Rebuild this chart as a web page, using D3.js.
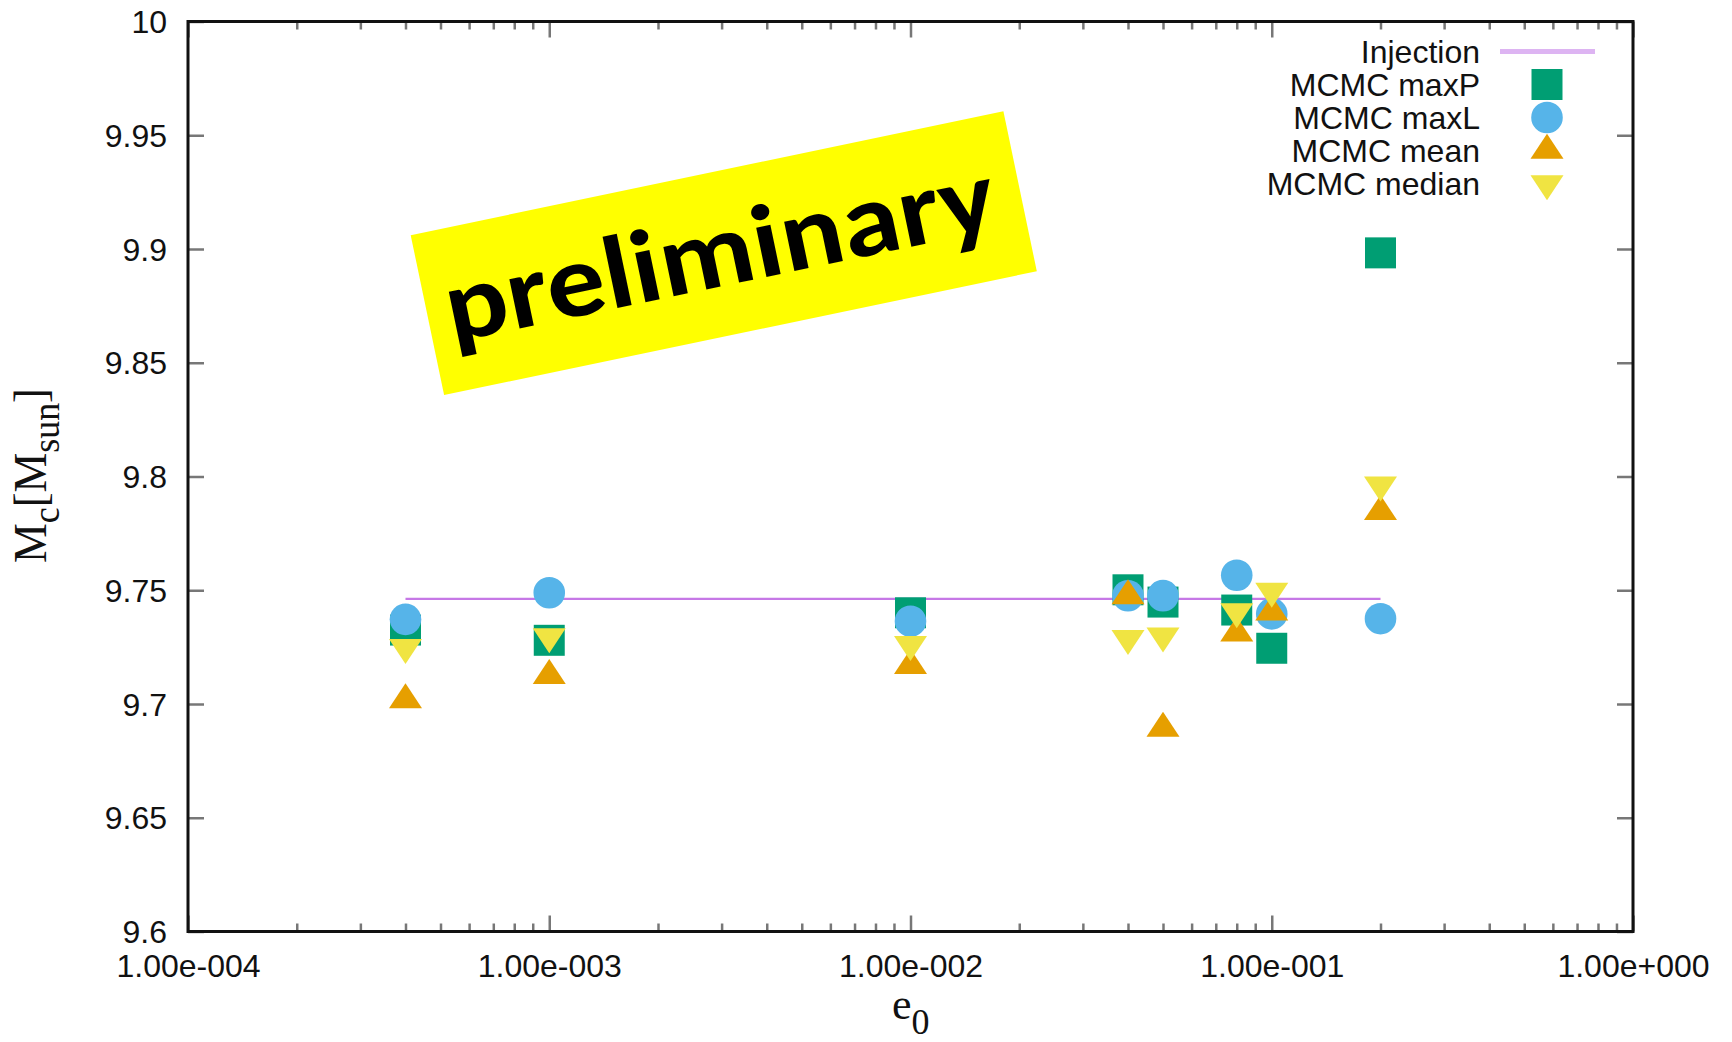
<!DOCTYPE html>
<html>
<head>
    <meta charset="utf-8">
    <script src="https://d3js.org/d3.v7.min.js"></script>
    <style>
        body { margin: 0; background: #ffffff; }
        svg text { font-family: "Liberation Sans", Arial, sans-serif; fill: #111; }
        .tick line { stroke: #777; stroke-width: 2.5; }
    </style>
</head>
<body>
<svg id="chart" width="1732" height="1042"></svg>
<script>
    // eccentricity of each injected run
    var e0 = [4e-4, 1e-3, 1e-2, 4e-2, 5e-2, 8e-2, 1e-1, 2e-1];

    // recovered chirp mass for each run
    var maxP   = [9.7325, 9.7280, 9.7401, 9.7502, 9.7448, 9.7413, 9.7245, 9.8983];
    var maxL   = [9.7372, 9.7489, 9.7364, 9.7476, 9.7476, 9.7566, 9.7396, 9.7375];
    var mean   = [9.7018, 9.7124, 9.7168, 9.7475, 9.6893, 9.7311, 9.7403, 9.7845];
    var median = [9.7249, 9.7296, 9.7262, 9.7289, 9.7300, 9.7406, 9.7497, 9.7963];

    var injection = 9.7462;
    var injectionRange = [4e-4, 2e-1];

    var xTicks = [1e-4, 1e-3, 1e-2, 1e-1, 1];
    var xTickLabels = ["1.00e-004", "1.00e-003", "1.00e-002", "1.00e-001", "1.00e+000"];
    var yTicks = [9.6, 9.65, 9.7, 9.75, 9.8, 9.85, 9.9, 9.95, 10];
    var yTickLabels = ["9.6", "9.65", "9.7", "9.75", "9.8", "9.85", "9.9", "9.95", "10"];

    var seriesNames = ["MCMC maxP", "MCMC maxL", "MCMC mean", "MCMC median"];
    var seriesShapes = ["square", "circle", "up", "down"];
    var seriesColors = ["#009e73", "#56b4e9", "#e69f00", "#f0e442"];
    var seriesValues = [maxP, maxL, mean, median];

    var svg = d3.select("#chart");

    // plot box
    var plotL = 188, plotR = 1633, plotT = 21.5, plotB = 931.5;

    var x = d3.scaleLog().domain([1e-4, 1]).range([plotL, plotR]);
    var y = d3.scaleLinear().domain([9.6, 10]).range([plotB, plotT]);

    var minorTicks = x.ticks().filter(function (t) { return xTicks.indexOf(t) < 0; });

    // x axis, major + minor, bottom and mirrored on top
    var xAxisB = svg.append("g")
        .attr("transform", "translate(0," + plotB + ")")
        .call(d3.axisBottom(x).tickValues(xTicks).tickSize(-16)
            .tickFormat(function (d, i) { return xTickLabels[i]; }));
    xAxisB.selectAll("text")
        .attr("y", 45.5).attr("dy", 0)
        .style("font-size", "32px");
    svg.append("g")
        .attr("transform", "translate(0," + plotB + ")")
        .call(d3.axisBottom(x).tickValues(minorTicks).tickSize(-8).tickFormat(""));
    svg.append("g")
        .attr("transform", "translate(0," + plotT + ")")
        .call(d3.axisTop(x).tickValues(xTicks).tickSize(-16).tickFormat(""));
    svg.append("g")
        .attr("transform", "translate(0," + plotT + ")")
        .call(d3.axisTop(x).tickValues(minorTicks).tickSize(-8).tickFormat(""));

    // y axis, left and mirrored on right
    var yAxisL = svg.append("g")
        .attr("transform", "translate(" + plotL + ",0)")
        .call(d3.axisLeft(y).tickValues(yTicks).tickSize(-16)
            .tickFormat(function (d, i) { return yTickLabels[i]; }));
    yAxisL.selectAll("text")
        .attr("x", -21).attr("dy", 11)
        .style("font-size", "32px");
    svg.append("g")
        .attr("transform", "translate(" + plotR + ",0)")
        .call(d3.axisRight(y).tickValues(yTicks).tickSize(-16).tickFormat(""));

    svg.selectAll(".domain").remove();

    // border
    svg.append("rect")
        .attr("x", plotL).attr("y", plotT)
        .attr("width", plotR - plotL).attr("height", plotB - plotT)
        .attr("fill", "none")
        .attr("stroke", "#111")
        .attr("stroke-width", 3);

    // axis labels
    var yl = svg.append("text")
        .attr("transform", "translate(46,475.5) rotate(-90)")
        .attr("text-anchor", "middle")
        .attr("textLength", 175)
        .attr("lengthAdjust", "spacingAndGlyphs")
        .style("font-family", "'Liberation Serif', 'Times New Roman', serif");
    yl.append("tspan").style("font-size", "46px").text("M");
    yl.append("tspan").attr("dy", 13).style("font-size", "37px").text("c");
    yl.append("tspan").attr("dy", -13).style("font-size", "46px").text("[M");
    yl.append("tspan").attr("dy", 13).style("font-size", "37px").text("sun");
    yl.append("tspan").attr("dy", -13).style("font-size", "46px").text("]");

    var xl = svg.append("text")
        .attr("x", 892).attr("y", 1019)
        .style("font-family", "'Liberation Serif', 'Times New Roman', serif");
    xl.append("tspan").style("font-size", "44px").text("e");
    xl.append("tspan").attr("dy", 15).style("font-size", "36px").text("0");

    // marker shapes in the gnuplot style
    function marker(shape, cx, cy) {
        if (shape === "square") {
            return "M" + (cx - 15.5) + "," + (cy - 15.5) + "h31v31h-31Z";
        }
        if (shape === "circle") {
            var r = 15.8;
            return "M" + (cx - r) + "," + cy + "a" + r + "," + r + " 0 1,0 " + (2 * r) + ",0" +
                "a" + r + "," + r + " 0 1,0 " + (-2 * r) + ",0Z";
        }
        if (shape === "up") {
            return "M" + cx + "," + (cy - 16.7) + "L" + (cx + 16.5) + "," + (cy + 8.3) +
                "L" + (cx - 16.5) + "," + (cy + 8.3) + "Z";
        }
        return "M" + cx + "," + (cy + 16.7) + "L" + (cx + 16.5) + "," + (cy - 8.3) +
            "L" + (cx - 16.5) + "," + (cy - 8.3) + "Z";
    }

    // injection line
    svg.append("line")
        .attr("x1", x(injectionRange[0])).attr("x2", x(injectionRange[1]))
        .attr("y1", y(injection)).attr("y2", y(injection))
        .attr("stroke", "#c678e6")
        .attr("stroke-width", 2.2);

    // data points
    seriesValues.forEach(function (vals, s) {
        svg.append("g").selectAll("path")
            .data(vals)
            .enter()
            .append("path")
            .attr("d", function (d, i) { return marker(seriesShapes[s], x(e0[i]), y(d)); })
            .attr("fill", seriesColors[s]);
    });

    // legend
    var legend = svg.append("g");
    var rowY = function (i) { return 51.5 + i * 33; };
    legend.append("text")
        .attr("x", 1480).attr("y", rowY(0) + 11.5)
        .attr("text-anchor", "end")
        .style("font-size", "32px")
        .text("Injection");
    legend.append("line")
        .attr("x1", 1500).attr("x2", 1595)
        .attr("y1", rowY(0)).attr("y2", rowY(0))
        .attr("stroke", "#ddb4f2")
        .attr("stroke-width", 5);
    seriesNames.forEach(function (name, s) {
        legend.append("text")
            .attr("x", 1480).attr("y", rowY(s + 1) + 11.5)
            .attr("text-anchor", "end")
            .style("font-size", "32px")
            .text(name);
        legend.append("path")
            .attr("d", marker(seriesShapes[s], 1547, rowY(s + 1)))
            .attr("fill", seriesColors[s]);
    });

    // "preliminary" stamp
    var stamp = svg.append("g")
        .attr("transform", "translate(723.75,253.2) rotate(-11.8)");
    stamp.append("rect")
        .attr("x", -302.75).attr("y", -81.7)
        .attr("width", 605.5).attr("height", 163.4)
        .attr("fill", "#ffff00");
    stamp.append("text")
        .attr("x", -4).attr("y", 32)
        .attr("text-anchor", "middle")
        .attr("textLength", 560)
        .attr("lengthAdjust", "spacingAndGlyphs")
        .style("font-family", "Carlito, Lato, 'Open Sans', sans-serif")
        .style("font-weight", "bold")
        .style("font-size", "104px")
        .style("fill", "#000")
        .text("preliminary");
</script>
</body>
</html>
